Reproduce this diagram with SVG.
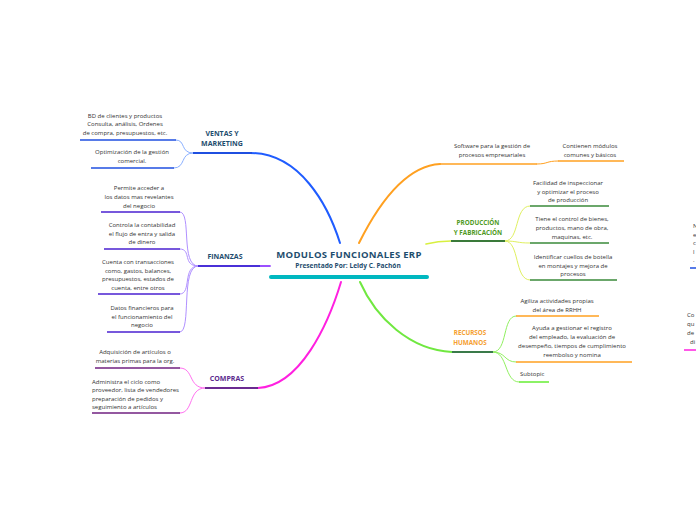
<svg xmlns="http://www.w3.org/2000/svg" width="696" height="520" viewBox="0 0 696 520">
<style>
.t{font-family:"Open Sans","Noto Sans","Liberation Sans",sans-serif;font-size:6px;fill:#333;text-anchor:middle}
.l{text-anchor:start}
.h{font-family:"Open Sans","Noto Sans","Liberation Sans",sans-serif;font-size:7px;font-weight:bold;text-anchor:middle}
.c{fill:none;stroke-linecap:round}
</style>
<rect width="696" height="520" fill="#fff"/>
<g id="connectors">
  <path class="c" d="M340,243 C328,205 300,153 250,153" stroke="#1f5cff" stroke-width="2"/>
  <path class="c" d="M359,243 C378,205 405,166 440,164" stroke="#ffa020" stroke-width="2"/>
  <path class="c" d="M426,244 C434,242 440,241 451,241" stroke="#d8f040" stroke-width="1.6"/>
  <path class="c" d="M270,266 L258,266" stroke="#9b50ff" stroke-width="1.8"/>
  <path class="c" d="M341,282 C328,325 300,386 258,388" stroke="#ff20e0" stroke-width="2"/>
  <path class="c" d="M360,282 C376,318 410,350 452,352" stroke="#70e840" stroke-width="2"/>
  <g stroke="#8ab0ff" stroke-width="1">
    <path class="c" d="M193,153 C180,153 186,140 176,140"/>
    <path class="c" d="M193,153 C180,153 186,168 174,168"/>
  </g>
  <g stroke="#b090ff" stroke-width="1">
    <path class="c" d="M198,266 C180,266 192,212 180,212"/>
    <path class="c" d="M198,266 C182,266 192,249 180,249"/>
    <path class="c" d="M198,266 C182,266 192,294 180,294"/>
    <path class="c" d="M198,266 C180,266 192,332 180,332"/>
  </g>
  <g stroke="#ff70f0" stroke-width="1">
    <path class="c" d="M205,388 C188,388 194,368 180,368"/>
    <path class="c" d="M205,388 C188,388 194,413 180,413"/>
  </g>
  <path class="c" d="M537,164 C548,164 546,161 558,161" stroke="#ffa020" stroke-width="1"/>
  <g stroke="#e0f060" stroke-width="1">
    <path class="c" d="M505,241 C520,241 514,206 530,206"/>
    <path class="c" d="M505,241 C518,241 516,243 530,243"/>
    <path class="c" d="M505,241 C520,241 514,280 530,280"/>
  </g>
  <g stroke="#90f060" stroke-width="1">
    <path class="c" d="M493,352 C508,352 502,316 516,316"/>
    <path class="c" d="M493,352 C506,352 504,362 516,362"/>
    <path class="c" d="M493,352 C508,352 504,382 519,382"/>
  </g>
</g>
<g id="central">
  <text x="349" y="258" style="font-family:'Open Sans','DejaVu Sans',sans-serif;font-size:9.5px;font-weight:bold;fill:#1e4d6e;text-anchor:middle;letter-spacing:0.3px">MODULOS FUNCIONALES ERP</text>
  <text x="348" y="268" style="font-family:'Open Sans','DejaVu Sans',sans-serif;font-size:6.6px;font-weight:bold;fill:#1e4d6e;text-anchor:middle">Presentado Por: Leidy C. Pachón</text>
  <line x1="271" y1="277" x2="427" y2="277" stroke="#00b8c0" stroke-width="4" stroke-linecap="round"/>
</g>
<g id="ventas">
  <text class="h" x="222" y="135.5" fill="#1e4d6e">VENTAS Y</text>
  <text class="h" x="222" y="145.5" fill="#1e4d6e">MARKETING</text>
  <line x1="193" y1="153" x2="252" y2="153" stroke="#1f4fe0" stroke-width="1.8"/>
</g>
<g id="ventas-1">
  <text class="t" x="125" y="118">BD de clientes y productos</text>
  <text class="t" x="125" y="126">Consulta, análisis, Ordenes</text>
  <text class="t" x="125" y="134.5">de compra, presupuestos, etc.</text>
  <line x1="80" y1="140" x2="176" y2="140" stroke="#1f4fe0" stroke-width="1.5"/>
</g>
<g id="ventas-2">
  <text class="t" x="132" y="154">Optimización de la gestión</text>
  <text class="t" x="132" y="163">comercial.</text>
  <line x1="91" y1="168" x2="174" y2="168" stroke="#1f4fe0" stroke-width="1.5"/>
</g>
<g id="finanzas">
  <text class="h" x="225" y="258.5" fill="#1e4d6e">FINANZAS</text>
  <line x1="198" y1="266" x2="260" y2="266" stroke="#4a30d8" stroke-width="1.8"/>
</g>
<g id="finanzas-1">
  <text class="t" x="139" y="190">Permite acceder a</text>
  <text class="t" x="139" y="199">los datos mas revelantes</text>
  <text class="t" x="139" y="207.5">del negocio</text>
  <line x1="101" y1="212" x2="180" y2="212" stroke="#4a20d0" stroke-width="1.5"/>
</g>
<g id="finanzas-2">
  <text class="t" x="142" y="227">Controla la contabilidad</text>
  <text class="t" x="142" y="235.5">el flujo de entra y salida</text>
  <text class="t" x="142" y="244">de dinero</text>
  <line x1="104" y1="249" x2="180" y2="249" stroke="#4a20d0" stroke-width="1.5"/>
</g>
<g id="finanzas-3">
  <text class="t" x="138" y="264">Cuenta con transacciones</text>
  <text class="t" x="138" y="273">como, gastos, balances,</text>
  <text class="t" x="138" y="281">presupuestos, estados de</text>
  <text class="t" x="138" y="289.5">cuenta, entre otros</text>
  <line x1="98" y1="294" x2="180" y2="294" stroke="#4a20d0" stroke-width="1.5"/>
</g>
<g id="finanzas-4">
  <text class="t" x="142" y="310">Datos financieros para</text>
  <text class="t" x="142" y="318.5">el funcionamiento del</text>
  <text class="t" x="142" y="327">negocio</text>
  <line x1="107" y1="332" x2="180" y2="332" stroke="#4a20d0" stroke-width="1.5"/>
</g>
<g id="compras">
  <text class="h" x="227" y="380.5" fill="#5b2a8e">COMPRAS</text>
  <line x1="205" y1="388" x2="258" y2="388" stroke="#6a2a90" stroke-width="1.8"/>
</g>
<g id="compras-1">
  <text class="t" x="135" y="354">Adquisición de artículos o</text>
  <text class="t" x="135" y="363">materias primas para la org.</text>
  <line x1="95" y1="368" x2="180" y2="368" stroke="#702080" stroke-width="1.5"/>
</g>
<g id="compras-2">
  <text class="t l" x="92" y="384">Administra el ciclo como</text>
  <text class="t l" x="92" y="392">proveedor, lista de vendedores</text>
  <text class="t l" x="92" y="400.5">preparación de pedidos y</text>
  <text class="t l" x="92" y="408.5">seguimiento a artículos</text>
  <line x1="92" y1="413" x2="180" y2="413" stroke="#702080" stroke-width="1.5"/>
</g>
<g id="software">
  <text class="t" x="492" y="148">Software para la gestión de</text>
  <text class="t" x="492" y="156.5">procesos empresariales</text>
  <line x1="440" y1="164" x2="537" y2="164" stroke="#ffa020" stroke-width="1.6"/>
</g>
<g id="software-1">
  <text class="t" x="590" y="148">Contienen módulos</text>
  <text class="t" x="590" y="156.5">comunes y básicos</text>
  <line x1="558" y1="161" x2="624" y2="161" stroke="#ffa020" stroke-width="1.5"/>
</g>
<g id="produccion">
  <text class="h" x="478" y="225" style="font-size:6.3px" fill="#4e9a22">PRODUCCIÓN</text>
  <text class="h" x="478" y="234.5" style="font-size:6.3px" fill="#4e9a22">Y FABRICACIÓN</text>
  <line x1="451" y1="241" x2="505" y2="241" stroke="#3a7a3a" stroke-width="1.8"/>
</g>
<g id="produccion-1">
  <text class="t" x="568" y="185">Facilidad de inspeccionar</text>
  <text class="t" x="568" y="194">y optimizar el proceso</text>
  <text class="t" x="568" y="201.5">de producción</text>
  <line x1="530" y1="206" x2="609" y2="206" stroke="#3a8a3a" stroke-width="1.5"/>
</g>
<g id="produccion-2">
  <text class="t" x="572" y="221">Tiene el control de bienes,</text>
  <text class="t" x="572" y="230">productos, mano de obra,</text>
  <text class="t" x="572" y="238.5">maquinas, etc.</text>
  <line x1="530" y1="243" x2="609" y2="243" stroke="#3a8a3a" stroke-width="1.5"/>
</g>
<g id="produccion-3">
  <text class="t" x="573" y="259">Identificar cuellos de botella</text>
  <text class="t" x="573" y="268">en montajes y mejora de</text>
  <text class="t" x="573" y="275.5">procesos</text>
  <line x1="530" y1="280" x2="617" y2="280" stroke="#3a8a3a" stroke-width="1.5"/>
</g>
<g id="rrhh">
  <text class="h" x="470" y="335" style="font-size:6.3px" fill="#f5a030">RECURSOS</text>
  <text class="h" x="470" y="344.5" style="font-size:6.3px" fill="#f5a030">HUMANOS</text>
  <line x1="452" y1="352" x2="493" y2="352" stroke="#3a7a4a" stroke-width="1.8"/>
</g>
<g id="rrhh-1">
  <text class="t" x="557" y="303">Agiliza actividades propias</text>
  <text class="t" x="557" y="311.5">del área de RRHH</text>
  <line x1="516" y1="316" x2="599" y2="316" stroke="#ffa020" stroke-width="1.5"/>
</g>
<g id="rrhh-2">
  <text class="t" x="572" y="330">Ayuda a gestionar el registro</text>
  <text class="t" x="572" y="339">del empleado, la evaluación de</text>
  <text class="t" x="572" y="347.5">desempeño, tiempos de cumplimiento</text>
  <text class="t" x="572" y="357">reembolso y nomina</text>
  <line x1="516" y1="362" x2="632" y2="362" stroke="#ffa020" stroke-width="1.5"/>
</g>
<g id="rrhh-3">
  <text class="t l" x="520" y="376">Subtopic</text>
  <line x1="519" y1="382" x2="549" y2="382" stroke="#66ee33" stroke-width="1.5"/>
</g>
<g id="edge-1">
  <text class="t l" x="693" y="228">N</text>
  <text class="t l" x="693" y="237">e</text>
  <text class="t l" x="693" y="245">c</text>
  <text class="t l" x="693" y="254">l</text>
  <text class="t l" x="693" y="262">.</text>
  <line x1="690" y1="268" x2="696" y2="268" stroke="#1f4fe0" stroke-width="1.5"/>
</g>
<g id="edge-2">
  <text class="t l" x="687" y="317">Co</text>
  <text class="t l" x="687" y="326">qu</text>
  <text class="t l" x="687" y="335">de</text>
  <text class="t l" x="690" y="344">di</text>
  <line x1="684" y1="350" x2="696" y2="350" stroke="#ff20e0" stroke-width="1.5"/>
</g>
</svg>
